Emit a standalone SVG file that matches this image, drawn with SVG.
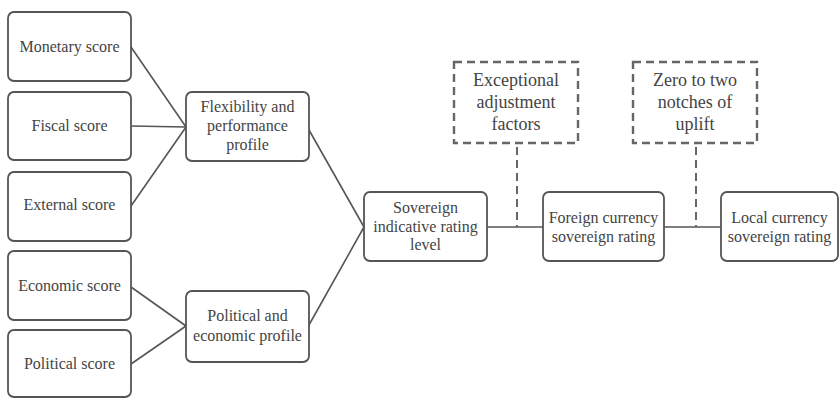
<svg xmlns="http://www.w3.org/2000/svg" width="839" height="398" viewBox="0 0 839 398">
<defs>
<marker id="none" markerWidth="1" markerHeight="1"/>
</defs>
<rect width="839" height="398" fill="#fff"/>
<g id="connectors" stroke="#555" stroke-width="1.6" fill="none">
<line x1="131" y1="47" x2="186" y2="127"/>
<line x1="131" y1="126" x2="186" y2="127"/>
<line x1="131" y1="206" x2="186" y2="127"/>
<line x1="131" y1="287" x2="186" y2="326"/>
<line x1="131" y1="364" x2="186" y2="326"/>
<line x1="309" y1="130" x2="364" y2="227"/>
<line x1="309" y1="325" x2="364" y2="227"/>
<line x1="487" y1="227" x2="543" y2="227"/>
<line x1="664" y1="227" x2="721" y2="227"/>
<line x1="517" y1="147" x2="517" y2="227" stroke="#666" stroke-width="2" stroke-dasharray="8,5"/>
<line x1="696" y1="147" x2="696" y2="227" stroke="#666" stroke-width="2" stroke-dasharray="8,5"/>
</g>
<g id="monetary"><rect x="8" y="12" width="123" height="69" rx="6" fill="#fff" stroke="#555" stroke-width="1.8"/><text font-family="Liberation Serif" font-size="16" fill="#444" text-anchor="middle" x="69.5" y="52">Monetary score</text></g>
<g id="fiscal"><rect x="8" y="92" width="123" height="68" rx="6" fill="#fff" stroke="#555" stroke-width="1.8"/><text font-family="Liberation Serif" font-size="16" fill="#444" text-anchor="middle" x="69.5" y="131">Fiscal score</text></g>
<g id="external"><rect x="8" y="172" width="123" height="69" rx="6" fill="#fff" stroke="#555" stroke-width="1.8"/><text font-family="Liberation Serif" font-size="16" fill="#444" text-anchor="middle" x="69.5" y="210">External score</text></g>
<g id="economic"><rect x="8" y="251" width="123" height="69" rx="6" fill="#fff" stroke="#555" stroke-width="1.8"/><text font-family="Liberation Serif" font-size="16" fill="#444" text-anchor="middle" x="69.5" y="291">Economic score</text></g>
<g id="political"><rect x="8" y="330" width="123" height="67" rx="6" fill="#fff" stroke="#555" stroke-width="1.8"/><text font-family="Liberation Serif" font-size="16" fill="#444" text-anchor="middle" x="69.5" y="369">Political score</text></g>
<g id="flexibility"><rect x="186" y="92" width="123" height="69" rx="6" fill="#fff" stroke="#555" stroke-width="1.8"/><text font-family="Liberation Serif" font-size="16" fill="#444" text-anchor="middle" x="247.5" y="112">Flexibility and</text><text font-family="Liberation Serif" font-size="16" fill="#444" text-anchor="middle" x="247.5" y="131">performance</text><text font-family="Liberation Serif" font-size="16" fill="#444" text-anchor="middle" x="247.5" y="150">profile</text></g>
<g id="polecon"><rect x="186" y="291" width="123" height="71" rx="6" fill="#fff" stroke="#555" stroke-width="1.8"/><text font-family="Liberation Serif" font-size="16" fill="#444" text-anchor="middle" x="247.5" y="321">Political and</text><text font-family="Liberation Serif" font-size="16" fill="#444" text-anchor="middle" x="247.5" y="341">economic profile</text></g>
<g id="indicative"><rect x="364" y="192" width="123" height="69" rx="6" fill="#fff" stroke="#555" stroke-width="1.8"/><text font-family="Liberation Serif" font-size="16" fill="#444" text-anchor="middle" x="425.5" y="213">Sovereign</text><text font-family="Liberation Serif" font-size="16" fill="#444" text-anchor="middle" x="425.5" y="232">indicative rating</text><text font-family="Liberation Serif" font-size="16" fill="#444" text-anchor="middle" x="425.5" y="250">level</text></g>
<g id="foreign"><rect x="543" y="192" width="121" height="69" rx="6" fill="#fff" stroke="#555" stroke-width="1.8"/><text font-family="Liberation Serif" font-size="16" fill="#444" text-anchor="middle" x="603.5" y="223">Foreign currency</text><text font-family="Liberation Serif" font-size="16" fill="#444" text-anchor="middle" x="603.5" y="242">sovereign rating</text></g>
<g id="local"><rect x="721" y="192" width="117" height="69" rx="6" fill="#fff" stroke="#555" stroke-width="1.8"/><text font-family="Liberation Serif" font-size="16" fill="#444" text-anchor="middle" x="779.5" y="223">Local currency</text><text font-family="Liberation Serif" font-size="16" fill="#444" text-anchor="middle" x="779.5" y="242">sovereign rating</text></g>
<g id="exceptional"><rect x="454" y="62" width="124" height="81" fill="#fff" stroke="#666" stroke-width="2.4" stroke-dasharray="8,5"/><text font-family="Liberation Serif" font-size="18" fill="#444" text-anchor="middle" x="516" y="86">Exceptional</text><text font-family="Liberation Serif" font-size="18" fill="#444" text-anchor="middle" x="516" y="108">adjustment</text><text font-family="Liberation Serif" font-size="18" fill="#444" text-anchor="middle" x="516" y="130">factors</text></g>
<g id="uplift"><rect x="633" y="62" width="124" height="81" fill="#fff" stroke="#666" stroke-width="2.4" stroke-dasharray="8,5"/><text font-family="Liberation Serif" font-size="18" fill="#444" text-anchor="middle" x="695" y="86">Zero to two</text><text font-family="Liberation Serif" font-size="18" fill="#444" text-anchor="middle" x="695" y="108">notches of</text><text font-family="Liberation Serif" font-size="18" fill="#444" text-anchor="middle" x="695" y="130">uplift</text></g>
</svg>
